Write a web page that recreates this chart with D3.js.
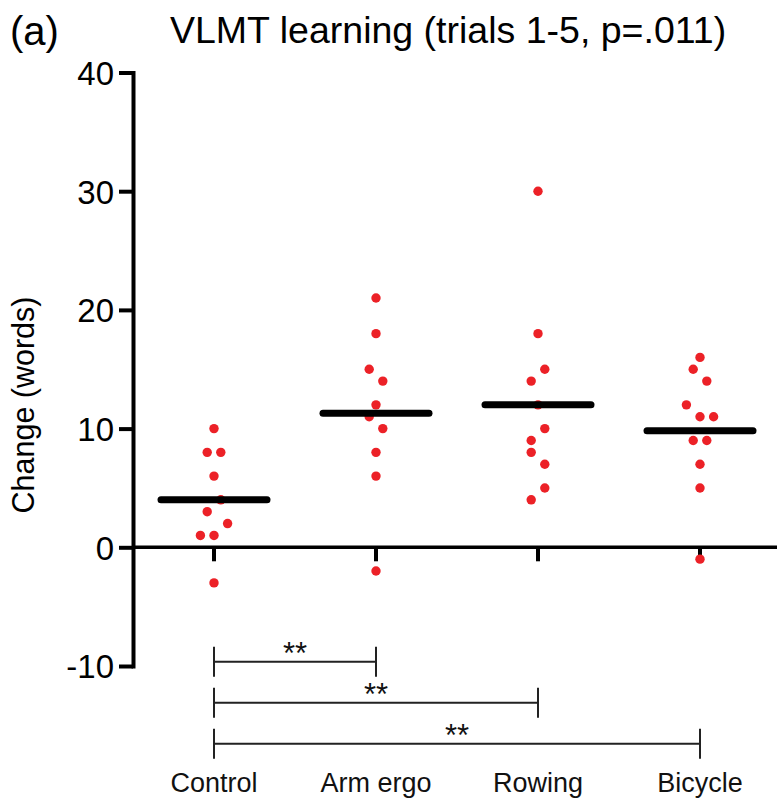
<!DOCTYPE html>
<html>
<head>
<meta charset="utf-8">
<script src="https://cdn.jsdelivr.net/npm/d3@7"></script>
<style>
  html, body { margin: 0; padding: 0; background: #fff; }
  svg { display: block; font-family: 'Liberation Sans', Arial, sans-serif; }
</style>
</head>
<body>
<div id="chart_container"></div>
<script>
// Values (change in words, trials 1-5)
const categories = ['Control', 'Arm ergo', 'Rowing', 'Bicycle'];

const control_values = [10, 8, 8, 6, 4, 3, 2, 1, 1, -3];
const arm_ergo_values = [21, 18, 15, 14, 12, 11, 10, 8, 6, -2];
const rowing_values = [30, 18, 15, 14, 12, 10, 9, 8, 7, 5, 4];
const bicycle_values = [16, 15, 14, 12, 11, 11, 9, 9, 7, 5, -1];

// scatter column of each point (Prism-style spread), in half-dot steps
const control_jitter = [0, -1, 1, 0, 1, -1, 2, -2, 0, 0];
const arm_ergo_jitter = [0, 0, -1, 1, 0, -1, 1, 0, 0, 0];
const rowing_jitter = [0, 0, 1, -1, 0, 1, -1, -1, 1, 1, -1];
const bicycle_jitter = [0, -1, 1, -2, 0, 2, -1, 1, 0, 0, 0];

const y_ticks = [-10, 0, 10, 20, 30, 40];

// significance brackets: [from, to, label]
const comparisons = [
    ['Control', 'Arm ergo', '**'],
    ['Control', 'Rowing', '**'],
    ['Control', 'Bicycle', '**']
];

const title_text = 'VLMT learning (trials 1-5, p=.011)';
const panel_text = '(a)';
const y_label = 'Change (words)';

const groups = [
    {name: 'Control', values: control_values, jitter: control_jitter},
    {name: 'Arm ergo', values: arm_ergo_values, jitter: arm_ergo_jitter},
    {name: 'Rowing', values: rowing_values, jitter: rowing_jitter},
    {name: 'Bicycle', values: bicycle_values, jitter: bicycle_jitter}
];

const svg_width = 777;
const svg_height = 801;
const axis_x = 133;
const point_color = '#ec2127';
const axes_color = '#000';

const svg = d3.select('#chart_container').append('svg')
    .attr('width', svg_width)
    .attr('height', svg_height);

const y_scale = d3.scaleLinear()
    .domain([-10, 40])
    .range([666, 72.5]);

const x_scale = d3.scaleBand()
    .domain(categories)
    .range([axis_x, axis_x + 4 * 162])
    .padding(0);

const x_center = c => x_scale(c) + x_scale.bandwidth() / 2;

const jitter_scale = d3.scaleLinear().domain([-1, 1]).range([-6.8, 6.8]);

// Y axis (plain hyphen for negatives, as in the figure)
const y_axis = d3.axisLeft(y_scale)
    .tickValues(y_ticks)
    .tickFormat(d => String(d))
    .tickSizeInner(14)
    .tickSizeOuter(0)
    .tickPadding(5);

const y_axis_g = svg.append('g')
    .attr('class', 'y axis')
    .attr('transform', `translate(${axis_x},0)`)
    .call(y_axis);

y_axis_g.select('path.domain')
    .attr('stroke', axes_color)
    .attr('stroke-width', 4)
    .attr('stroke-linecap', 'square');
y_axis_g.selectAll('.tick line')
    .attr('stroke', axes_color)
    .attr('stroke-width', 4);
y_axis_g.selectAll('.tick text')
    .attr('fill', axes_color)
    .style('font-size', '33px')
    .attr('dy', '0.36em');

// Zero line with category ticks
const x_axis = d3.axisBottom(x_scale)
    .tickSizeInner(14)
    .tickSizeOuter(0)
    .tickFormat('');

const x_axis_g = svg.append('g')
    .attr('class', 'x axis')
    .attr('transform', `translate(0,${y_scale(0)})`)
    .call(x_axis);

x_axis_g.select('path.domain')
    .attr('d', `M${axis_x},0H${svg_width}`)
    .attr('stroke', axes_color)
    .attr('stroke-width', 3.5);
x_axis_g.selectAll('.tick line')
    .attr('stroke', axes_color)
    .attr('stroke-width', 4);

// Points
const group_g = svg.selectAll('g.group')
    .data(groups)
    .enter()
    .append('g')
    .attr('class', 'group');

group_g.selectAll('circle')
    .data(g => g.values.map((v, i) => ({name: g.name, value: v, jitter: g.jitter[i]})))
    .enter()
    .append('circle')
    .attr('cx', d => x_center(d.name) + jitter_scale(d.jitter))
    .attr('cy', d => y_scale(d.value))
    .attr('r', 4.7)
    .attr('fill', point_color);

// Mean bars
const mean_half = 53;
group_g.append('line')
    .attr('x1', g => x_center(g.name) - mean_half)
    .attr('x2', g => x_center(g.name) + mean_half)
    .attr('y1', g => y_scale(d3.mean(g.values)))
    .attr('y2', g => y_scale(d3.mean(g.values)))
    .attr('stroke', '#000')
    .attr('stroke-width', 7)
    .attr('stroke-linecap', 'round');

// Significance brackets below the axis
const bracket_top = 661.7;
const bracket_step = 41;
const bracket_g = svg.selectAll('g.bracket')
    .data(comparisons)
    .enter()
    .append('g')
    .attr('class', 'bracket')
    .attr('transform', (d, i) => `translate(0,${bracket_top + i * bracket_step})`);

bracket_g.append('path')
    .attr('d', d => {
        const x1 = x_center(d[0]), x2 = x_center(d[1]);
        return `M${x1},-15V15M${x1},0H${x2}M${x2},-15V15`;
    })
    .attr('fill', 'none')
    .attr('stroke', '#222')
    .attr('stroke-width', 2);

bracket_g.append('text')
    .attr('x', d => (x_center(d[0]) + x_center(d[1])) / 2)
    .attr('y', 2)
    .attr('text-anchor', 'middle')
    .style('font-size', '31px')
    .attr('fill', '#111')
    .text(d => d[2]);

// Category labels
svg.selectAll('text.cat_label')
    .data(categories)
    .enter()
    .append('text')
    .attr('class', 'cat_label')
    .attr('x', d => x_center(d))
    .attr('y', 792)
    .attr('text-anchor', 'middle')
    .style('font-size', '27px')
    .attr('fill', '#111')
    .text(d => d);

// Titles
svg.append('text')
    .attr('x', 10)
    .attr('y', 45)
    .style('font-size', '40px')
    .text(panel_text);

svg.append('text')
    .attr('x', 170)
    .attr('y', 43)
    .style('font-size', '37.5px')
    .text(title_text);

svg.append('text')
    .attr('text-anchor', 'middle')
    .attr('transform', `translate(34,405)rotate(-90)`)
    .style('font-size', '30.5px')
    .text(y_label);
</script>
</body>
</html>
